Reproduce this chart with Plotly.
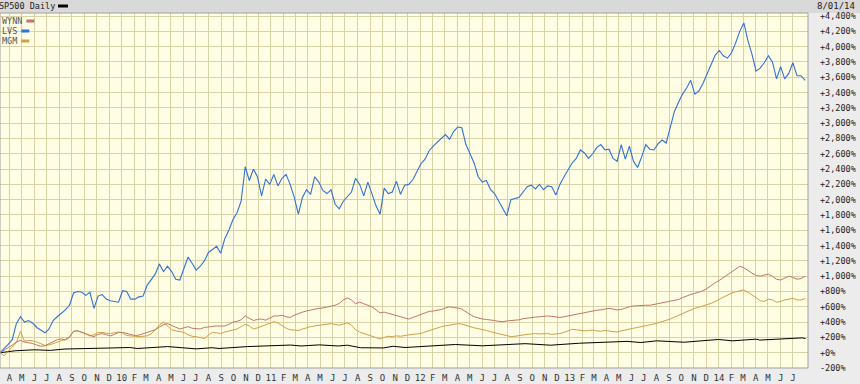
import pandas as pd
import plotly.graph_objects as go

# ---- data (percent change since 2009-03-09), sampled every 10 days ----
dates = pd.date_range("2009-03-09", periods=198, freq="10D")

lvs = [0, 50, 110, 170, 380, 470, 400, 420, 385, 330, 290, 260, 310, 420, 470, 510, 560, 620, 780, 800,
       790, 750, 790, 580, 740, 760, 700, 680, 665, 660, 810, 800, 700, 700, 730, 740, 880, 950, 1030, 1160,
       1060, 1130, 1060, 960, 950, 1100, 1250, 1170, 1080, 1130, 1200, 1310, 1350, 1390, 1300, 1490, 1600, 1740, 1830, 1980,
       2430, 2250, 2400, 2300, 2050, 2270, 2200, 2330, 2180, 2280, 2330, 2200, 2030, 1810, 2030, 2130, 2070, 2300, 2230, 2120,
       2080, 2130, 1940, 1880, 1980, 2040, 2100, 2280, 2200, 2050, 2230, 2080, 1920, 1810, 2150, 2080, 2100, 2240, 2070, 2190,
       2200, 2260, 2370, 2470, 2530, 2640, 2700, 2750, 2790, 2850, 2790, 2890, 2950, 2940, 2720, 2590, 2480, 2300, 2230, 2250,
       2135, 2080, 1980, 1880, 1790, 2000, 2020, 2030, 2100, 2170, 2190, 2140, 2200, 2130, 2180, 2170, 2060, 2200, 2300, 2400,
       2480, 2540, 2650, 2610, 2540, 2600, 2680, 2720, 2650, 2660, 2540, 2500, 2720, 2530, 2700, 2500, 2420, 2560, 2720, 2660,
       2650, 2730, 2780, 2740, 2950, 3150, 3270, 3380, 3460, 3560, 3380, 3420, 3520, 3650, 3780, 3890, 3950, 3880, 3850, 3920,
       4050, 4200, 4310, 4080, 3900, 3680, 3720, 3790, 3880, 3800, 3580, 3740, 3580, 3650, 3790, 3620, 3620, 3560]

wynn = [0, 30, 70, 100, 140, 160, 140, 130, 120, 100, 85, 90, 115, 140, 170, 180, 165, 200, 280, 285,
        270, 250, 225, 210, 240, 250, 235, 220, 240, 265, 265, 250, 235, 225, 230, 250, 265, 285, 300, 335,
        365, 380, 355, 330, 310, 325, 340, 320, 310, 310, 330, 340, 345, 350, 348, 350, 370, 400, 410, 430,
        480, 450, 420, 435, 440, 425, 450, 480, 480, 490, 470, 460, 490, 515, 530, 545, 560, 570, 580, 585,
        595, 605, 620, 645, 690, 715, 690, 640, 660, 640, 625, 600, 560, 520, 530, 515, 500, 480, 460, 450,
        440, 460, 480, 500, 520, 540, 545, 555, 565, 585, 600, 590, 585, 570, 530, 500, 470, 450, 440, 435,
        430, 420, 410, 405, 415, 420, 425, 430, 445, 455, 460, 465, 470, 475, 480, 475, 465, 460, 470, 480,
        490, 505, 520, 530, 540, 545, 555, 560, 570, 580, 570, 560, 565, 585, 600, 610, 615, 620, 620, 620,
        630, 645, 655, 665, 670, 685, 695, 720, 745, 760, 775, 790, 810, 840, 880, 915, 945, 980, 1020, 1050,
        1090, 1130, 1110, 1070, 1040, 1010, 1000, 1015, 1025, 1000, 960, 950, 975, 1000, 985, 960, 970, 1000]

mgm = [0, -40, 20, 80, 130, 280, 150, 160, 155, 140, 120, 95, 100, 120, 145, 165, 175, 210, 280, 285,
       270, 245, 220, 235, 265, 265, 255, 250, 260, 270, 255, 225, 220, 212, 210, 215, 220, 245, 300, 360,
       400, 350, 300, 285, 275, 265, 235, 215, 210, 195, 185, 230, 265, 260, 250, 270, 285, 295, 310, 340,
       370, 350, 310, 325, 345, 360, 380, 405, 390, 350, 320, 300, 290, 290, 310, 330, 340, 350, 360, 370,
       375, 380, 370, 360, 375, 390, 360, 300, 270, 250, 230, 210, 195, 180, 200, 215, 210, 220, 215, 225,
       235, 240, 245, 250, 270, 290, 310, 330, 340, 350, 360, 370, 380, 375, 355, 340, 325, 315, 305, 290,
       275, 260, 245, 230, 215, 210, 215, 225, 230, 240, 245, 250, 245, 250, 250, 240, 245, 250, 265, 285,
       305, 300, 290, 285, 290, 295, 285, 280, 290, 285, 275, 270, 285, 300, 310, 320, 330, 340, 350, 360,
       375, 390, 405, 420, 440, 465, 490, 510, 540, 560, 580, 595, 610, 620, 645, 670, 700, 730, 760, 780,
       795, 810, 820, 790, 760, 720, 680, 670, 700, 690, 660, 670, 690, 700, 710, 690, 690, 710]

sp_dates = ["2009-03-09", "2009-04-15", "2009-06-01", "2009-07-10", "2009-08-15", "2009-10-15", "2009-12-15",
            "2010-01-20", "2010-02-08", "2010-04-23", "2010-07-02", "2010-08-10", "2010-08-27", "2010-11-05",
            "2011-02-18", "2011-03-16", "2011-04-29", "2011-06-15", "2011-07-07", "2011-08-08", "2011-10-03",
            "2011-10-27", "2011-11-25", "2012-03-27", "2012-06-01", "2012-09-14", "2012-11-15", "2013-01-25",
            "2013-05-21", "2013-06-24", "2013-08-02", "2013-10-08", "2013-12-31", "2014-02-03", "2014-04-02",
            "2014-04-11", "2014-07-24", "2014-08-01"]
sp500 = [0, 25, 38, 30, 48, 60, 63, 68, 55, 80, 50, 65, 55, 80, 100, 88, 102, 88, 98, 65, 62, 84, 68, 107,
         90, 118, 98, 124, 148, 133, 155, 137, 173, 155, 177, 165, 194, 185]

y_ticks = list(range(-200, 4401, 200))
month_ticks = pd.date_range("2009-04-01", "2014-07-01", freq="MS")
month_letters = "JFMAMJJASOND"

COL_WYNN = "#c4756b"
COL_LVS = "#2f72d8"
COL_MGM = "#d1a044"
FONT = "DejaVu Sans Mono"
FS = 8.5

fig = go.Figure()
fig.add_trace(go.Scatter(x=sp_dates, y=sp500, mode="lines", line=dict(color="#000000", width=1), name="SP500"))
fig.add_trace(go.Scatter(x=dates, y=mgm, mode="lines", line=dict(color=COL_MGM, width=1), name="MGM"))
fig.add_trace(go.Scatter(x=dates, y=wynn, mode="lines", line=dict(color=COL_WYNN, width=1), name="WYNN"))
fig.add_trace(go.Scatter(x=dates, y=lvs, mode="lines", line=dict(color=COL_LVS, width=1.1), name="LVS"))

tick_text = [f"{d.year % 100}" if d.month == 1 else month_letters[d.month - 1] for d in month_ticks]
y_text = [f"{v:+,}%" for v in y_ticks]

W, H = 860, 384
ml, mr, mt, mb = 0, 52, 13, 16
pw, ph = W - ml - mr, H - mt - mb

def px(x):
    return (x - ml) / pw

def py(y):
    return (H - mb - y) / ph

shapes = [
    # header bar
    dict(type="rect", xref="paper", yref="paper", x0=px(0), x1=px(W), y0=py(mt), y1=py(0),
         fillcolor="#d9d9d9", line=dict(width=0), layer="below"),
    # plot frame
    dict(type="rect", xref="paper", yref="paper", x0=0, x1=1, y0=0, y1=1,
         line=dict(color="#a0a0a0", width=1), fillcolor="rgba(0,0,0,0)"),
    # title swatch
    dict(type="line", xref="paper", yref="paper", x0=px(58), x1=px(68), y0=py(6), y1=py(6),
         line=dict(color="#000000", width=3)),
]
annotations = [
    dict(text="SP500 Daily", xref="paper", yref="paper", x=px(-3), y=py(6), xanchor="left", yanchor="middle",
         showarrow=False, font=dict(family=FONT, size=FS, color="#222")),
    dict(text="8/01/14", xref="paper", yref="paper", x=px(857), y=py(5.5), xanchor="right", yanchor="middle",
         showarrow=False, font=dict(family=FONT, size=FS + 0.5, color="#222")),
]
for i, (name, col) in enumerate([("WYNN", COL_WYNN), ("LVS", COL_LVS), ("MGM", COL_MGM)]):
    yy = 21 + 10 * i
    annotations.append(dict(text=name, xref="paper", yref="paper", x=px(0), y=py(yy), xanchor="left",
                            yanchor="middle", showarrow=False, font=dict(family=FONT, size=FS, color="#555")))
    shapes.append(dict(type="line", xref="paper", yref="paper",
                       x0=px(6 + 5.1 * len(name)), x1=px(14 + 5.1 * len(name)), y0=py(yy), y1=py(yy),
                       line=dict(color=col, width=3)))

fig.update_layout(
    width=W, height=H,
    margin=dict(l=ml, r=mr, t=mt, b=mb, pad=0),
    paper_bgcolor="#ececec",
    plot_bgcolor="#fffde4",
    showlegend=False,
    shapes=shapes,
    annotations=annotations,
    xaxis=dict(range=["2009-03-09", "2014-08-07"], tickvals=month_ticks, ticktext=tick_text,
               showgrid=True, gridcolor="#d8d3a6", gridwidth=1, zeroline=False, ticks="",
               ticklabelstandoff=3,
               tickfont=dict(family=FONT, size=FS + 0.5, color="#333"), showline=False, fixedrange=True),
    yaxis=dict(range=[-200, 4440], side="right", tickvals=y_ticks, ticktext=y_text,
               showgrid=True, gridcolor="#d8d3a6", gridwidth=1, zeroline=False, ticks="",
               ticklabelstandoff=11,
               tickfont=dict(family=FONT, size=FS, color="#222"), showline=False, fixedrange=True),
)

fig.write_html("out.html")
